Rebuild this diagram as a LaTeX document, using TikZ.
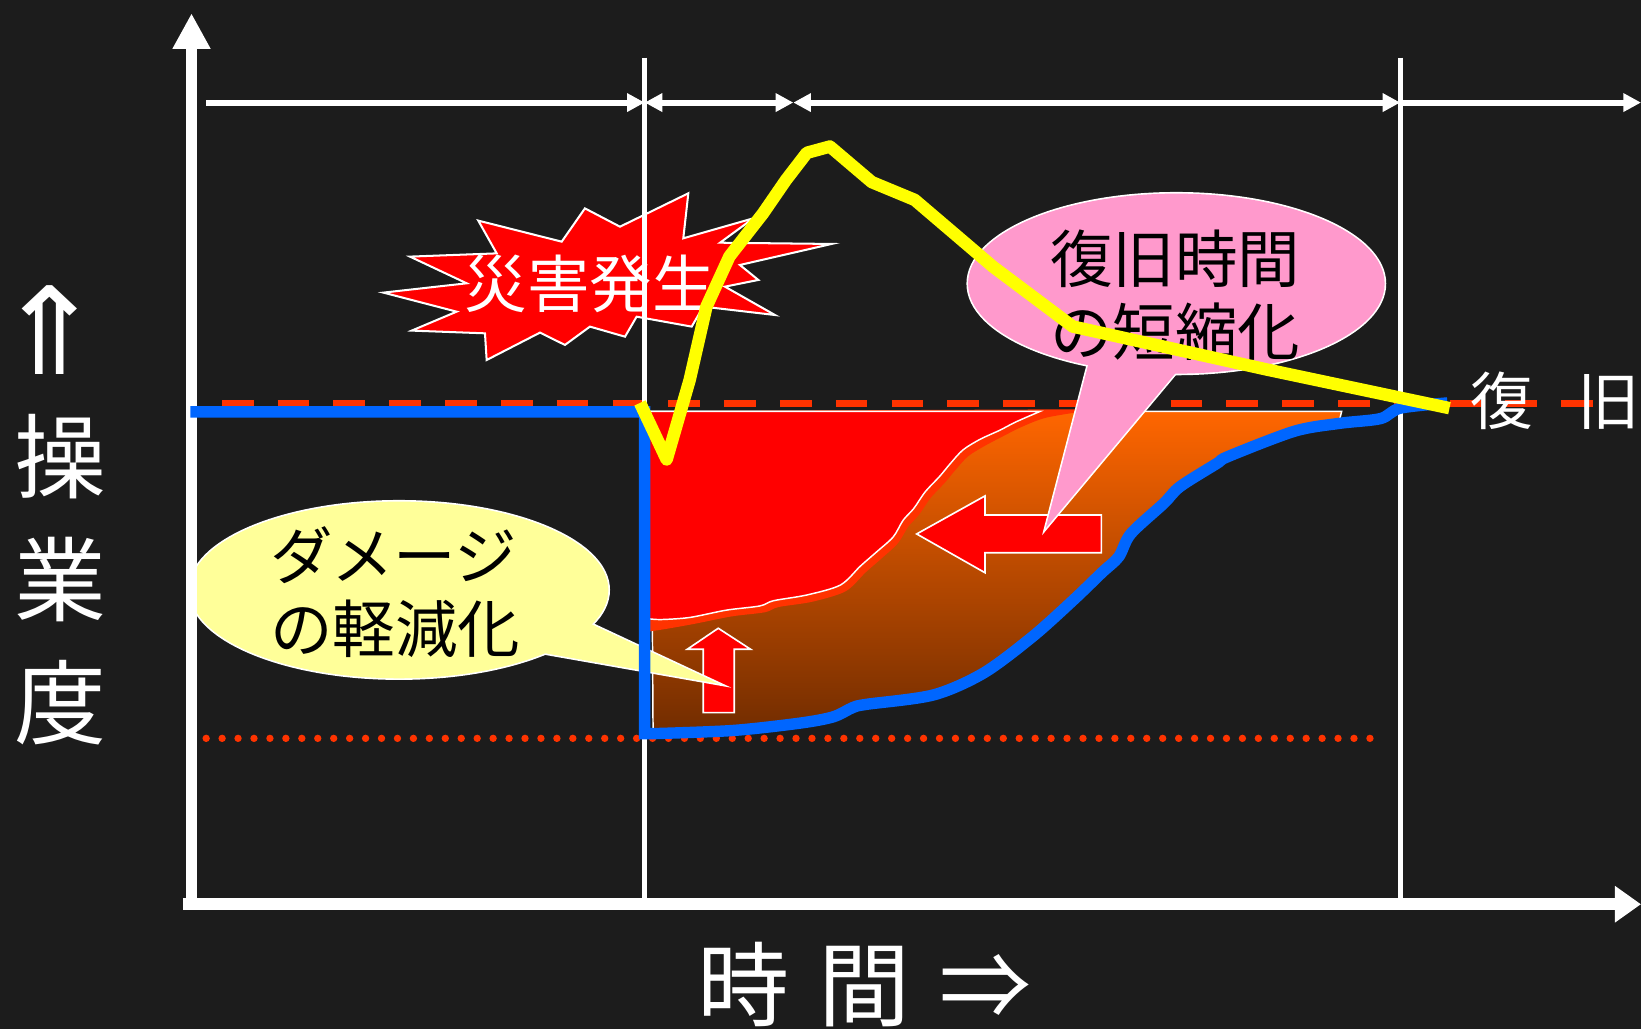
\documentclass[tikz,border=0pt]{standalone}
\usepackage{fontspec}
\setmainfont{Noto Sans CJK JP}
\newfontfamily\djv{DejaVu Sans}
\usetikzlibrary{arrows.meta}
\definecolor{bgc}{RGB}{28,28,28}
\definecolor{bluel}{RGB}{0,102,255}
\definecolor{redo}{RGB}{255,51,0}
\definecolor{pinkc}{RGB}{255,153,204}
\definecolor{yellc}{RGB}{255,255,153}
\definecolor{orgtop}{RGB}{255,102,0}
\definecolor{orgbot}{RGB}{115,45,0}
\definecolor{yline}{RGB}{255,255,0}
\tikzset{
  dimline/.style={white, line width=3.2pt},
  dimtip/.tip={Triangle[length=9.6pt,width=9.6pt]},
  thinv/.style={white, line width=2.5pt},
  axisline/.style={white, line width=6.5pt},
  regionline/.style={draw=white, line width=0.8pt},
  arrowshape/.style={fill=red, draw=white, line width=0.9pt},
  bigtext/.style={font=\fontsize{34}{39.7}\selectfont, inner sep=0pt},
  axistext/.style={font=\fontsize{50}{66.9}\selectfont, text=white, inner sep=0pt},
}
\begin{document}
\begin{tikzpicture}[x=0.02cm,y=-0.02cm]
\fill[bgc] (0,0) rectangle (1568,983);
\useasboundingbox (0,0) rectangle (1568,983);

% dotted line
\draw[redo, line width=4pt, line cap=round, dash pattern=on 0pt off 8.67pt] (197,705.5) -- (1318,705.5);

% orange region
\shadedraw[top color=orgtop, bottom color=orgbot, regionline]
  (622,393) -- (1282,393) -- plot[smooth,tension=0.5] coordinates {(1280,401) (1237,409) (1174,433) (1162,440) (1127,462) (1112,478) (1080,507) (1069,529) (1053,544) (1026,570) (987,605) (940,640) (892,661) (828,670) (815,672) (796,682) (764,688) (700,695) (624,697)} -- cycle;

% red-orange band
\fill[redo] (616,393) -- (1042,391) -- plot[smooth,tension=0.5] coordinates {(1042,392) (1000,399) (976,408) (960,416) (941,426) (925,436) (913,449) (903,461) (889,476) (878,492) (868,503) (858,519) (843,533) (827,547) (808,565) (776,575) (744,580) (731,585) (699,589) (664,596) (636,601) (616,604)} -- cycle;

% red region
\filldraw[fill=red, regionline]
  (618,393) -- (994,393) -- plot[smooth,tension=0.5] coordinates {(994,393) (971,403) (955.5,411) (936,420) (920,430) (908,443) (898,455) (884,470) (873,486) (863,497) (853.5,513) (838,527) (822,541) (803,559) (771,568.5) (739,574) (726,579) (694,583) (659,590) (631,592) (618,591)} -- cycle;

% dashed line
\draw[redo, line width=3.4pt, dash pattern=on 17.2pt off 13.15pt] (212,385.5) -- (1528,385.5);

% explosion
\filldraw[fill=red, draw=white, line width=1.1pt]
 (366.3,279.6) -- (445.9,270.7) -- (391.7,245.2) -- (474.6,242.1) -- (457,210.8) -- (536.7,230.9) -- (558.9,199.1) -- (592.4,216.6) -- (657.7,184.7) -- (652.9,227.7) -- (719.8,208.6) -- (688,231.9) -- (794.6,233.1) -- (707,253.2) -- (724.6,267.5) -- (692.7,273.9) -- (740.5,301) -- (672,293) -- (660.9,312.1) -- (608.3,302.6) -- (597.2,321.7) -- (563.7,312.1) -- (539.8,329.6) -- (516,317.8) -- (465,344) -- (463.4,318.5) -- (393.4,315.9) -- (436.3,297.8) -- cycle;
\node[bigtext, text=white] (disaster) at (563.7,271) {災害発生};

% vertical thin lines
\coordinate (v1t) at (616,55); \coordinate (v1b) at (616,863);
\coordinate (v2t) at (1338,55); \coordinate (v2b) at (1338,863);
\draw[thinv] (v1t) -- (v1b);
\draw[thinv] (v2t) -- (v2b);

% top dimension arrows
\coordinate (t0) at (197,98); \coordinate (t1) at (616,98);
\coordinate (t2) at (758,98); \coordinate (t3) at (1338,98);
\coordinate (t4) at (1568,98);
\draw[dimline, -dimtip] (t0) -- (t1);
\draw[dimline, dimtip-dimtip] (t1) -- (t2);
\draw[dimline, dimtip-dimtip] (t2) -- (t3);
\draw[dimline, -dimtip] (t3) -- (t4);

% red arrows
\filldraw[arrowshape] (686.3,600.3) -- (717.2,620.4) -- (701.6,620.4) -- (701.6,680.9) -- (672,680.9) -- (672,620.4) -- (656.7,620.4) -- cycle;
\filldraw[arrowshape] (875.9,510.2) -- (941.1,473.9) -- (941.1,492.1) -- (1052.4,492.1) -- (1052.4,528.1) -- (941.1,528.1) -- (941.1,547.2) -- cycle;

% pink callout
\draw[white, line width=1.8pt] (1124,271) ellipse [x radius=199, y radius=86];
\draw[white, line width=1.8pt, line join=miter] (1042,340) -- (999,505) -- (1137,340);
\fill[pinkc] (1124,271) ellipse [x radius=199, y radius=86];
\fill[pinkc] (1042,340) -- (999,505) -- (1137,340) -- cycle;
\node[bigtext, align=left] (pinktext) at (1123,282) {復旧時間\\の短縮化};

% yellow callout
\draw[white, line width=1.8pt] (381.3,563.7) ellipse [x radius=200, y radius=84.4];
\draw[white, line width=1.8pt] (530,580) -- (687.4,653.5) -- (471,615.4);
\fill[yellc] (381.3,563.7) ellipse [x radius=200, y radius=84.4];
\fill[yellc] (530,580) -- (687.4,653.5) -- (471,615.4) -- cycle;
\node[bigtext, align=left, anchor=west] (yelltext) at (258,566) {ダメージ\\の軽減化};

% axes
\coordinate (o) at (183,864); \coordinate (ytop) at (183,12.7);
\coordinate (xl) at (175,864); \coordinate (xr) at (1568,864);
\draw[axisline, -{Triangle[length=19.3pt,width=19.3pt]}] (o) -- (ytop);
\draw[axisline, -{Triangle[length=14.2pt,width=19pt]}] (xl) -- (xr);

% blue line
\draw[bluel, line width=6.2pt, line join=miter] (182,393.5) -- (616,393.5) -- (616,701) -- plot[smooth,tension=0.5] coordinates {(624,701) (700,698) (764,691) (796,685) (815,676) (828,673) (892,664) (940,643) (987,608) (1026,573) (1053,547) (1069,532) (1080.5,510) (1112,481) (1127.5,465) (1162.5,443) (1174,436) (1237,412) (1280,404.5) (1319,400) (1338,390) (1383,385)};

% yellow line
\draw[yline, line width=6.8pt, line join=round] (611.5,385) -- (637,439) -- (659,363) -- (675,293) -- (697,245) -- (729,204) -- (751,172) -- (771,146) -- (793,140) -- (833,174) -- (874,191) -- (908,220) -- (949,255) -- (1025,312) -- (1210,353) -- (1385,390);

% labels
\node[bigtext, text=white] (fukkyu) at (1486,383) {復\hspace{24pt}旧};
\node[axistext, align=center] (ylab) at (58,554) {操\\業\\度};
\node[text=white, inner sep=2pt, font=\fontsize{44}{44}\selectfont\djv] (yarrow) at (47.3,315) {\scalebox{1.6}[1.5]{⇑}};
\node[axistext] (xlab) at (826,941) {時\hspace{16pt}間\hspace{16pt}⇒};
\end{tikzpicture}
\end{document}
